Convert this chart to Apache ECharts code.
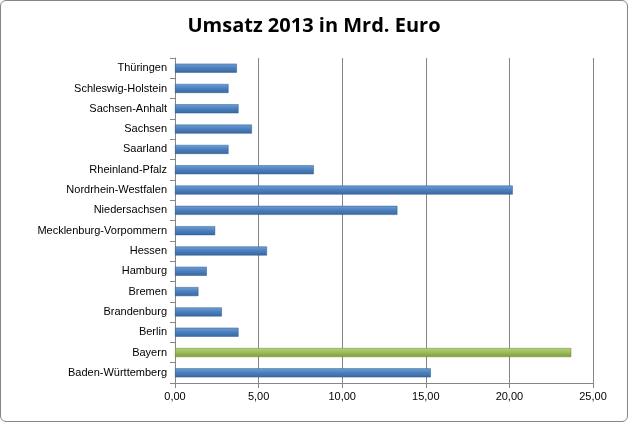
<!DOCTYPE html>
<html>
<head>
<meta charset="utf-8">
<script src="https://cdn.jsdelivr.net/npm/echarts@6/dist/echarts.min.js"></script>
<style>
html,body{margin:0;padding:0;background:#fff;}
#chart{width:626px;height:420px;border:1px solid #868686;border-radius:6px;}
</style>
</head>
<body>
<div id="chart"></div>
<script>
// Bundesländer, von unten nach oben
var laender = ['Baden-Württemberg','Bayern','Berlin','Brandenburg','Bremen','Hamburg','Hessen',
  'Mecklenburg-Vorpommern','Niedersachsen','Nordrhein-Westfalen','Rheinland-Pfalz','Saarland',
  'Sachsen','Sachsen-Anhalt','Schleswig-Holstein','Thüringen'];
// Umsatz in Mrd. Euro
var umsatz = [15.3, 23.7, 3.8, 2.8, 1.4, 1.9, 5.5, 2.4, 13.3, 20.2, 8.3, 3.2, 4.6, 3.8, 3.2, 3.7];
var markiert = 'Bayern';

var blau = new echarts.graphic.LinearGradient(0,0,0,1,[
  {offset:0,color:'#6f9fd8'},{offset:0.5,color:'#4a7ebb'},{offset:1,color:'#3a68a0'}]);
var gruen = new echarts.graphic.LinearGradient(0,0,0,1,[
  {offset:0,color:'#b5d27a'},{offset:0.5,color:'#9bbb59'},{offset:1,color:'#7f9c42'}]);

var chart = echarts.init(document.getElementById('chart'));
var option = {
  animation:false,
  title:{text:'Umsatz 2013 in Mrd. Euro',left:'center',top:10,
    textStyle:{fontFamily:'Open Sans',fontSize:20,fontWeight:'bold',color:'#000'}},
  grid:{left:174,right:34,top:57,bottom:38},
  xAxis:{type:'value',min:0,max:25,interval:5,
    axisLine:{show:true,lineStyle:{color:'#868686'}},
    axisTick:{show:true,length:5,lineStyle:{color:'#868686'}},
    splitLine:{lineStyle:{color:'#868686'}},
    axisLabel:{color:'#000',fontSize:11,fontFamily:'Liberation Sans',
      formatter:function(v){return v.toFixed(2).replace('.',',');}}},
  yAxis:{type:'category',data:laender,
    axisLine:{lineStyle:{color:'#868686'}},
    axisTick:{show:true,length:5,lineStyle:{color:'#868686'}},
    axisLabel:{color:'#000',fontSize:11,fontFamily:'Liberation Sans'}},
  series:[{type:'bar',barWidth:9,
    data:umsatz.map(function(v,i){
      return {value:v,itemStyle:{color:laender[i]===markiert?gruen:blau,
        borderColor:laender[i]===markiert?'#6b8a30':'#2f5a8e',borderWidth:0.5}};
    })}]
};
chart.setOption(option);
</script>
</body>
</html>
